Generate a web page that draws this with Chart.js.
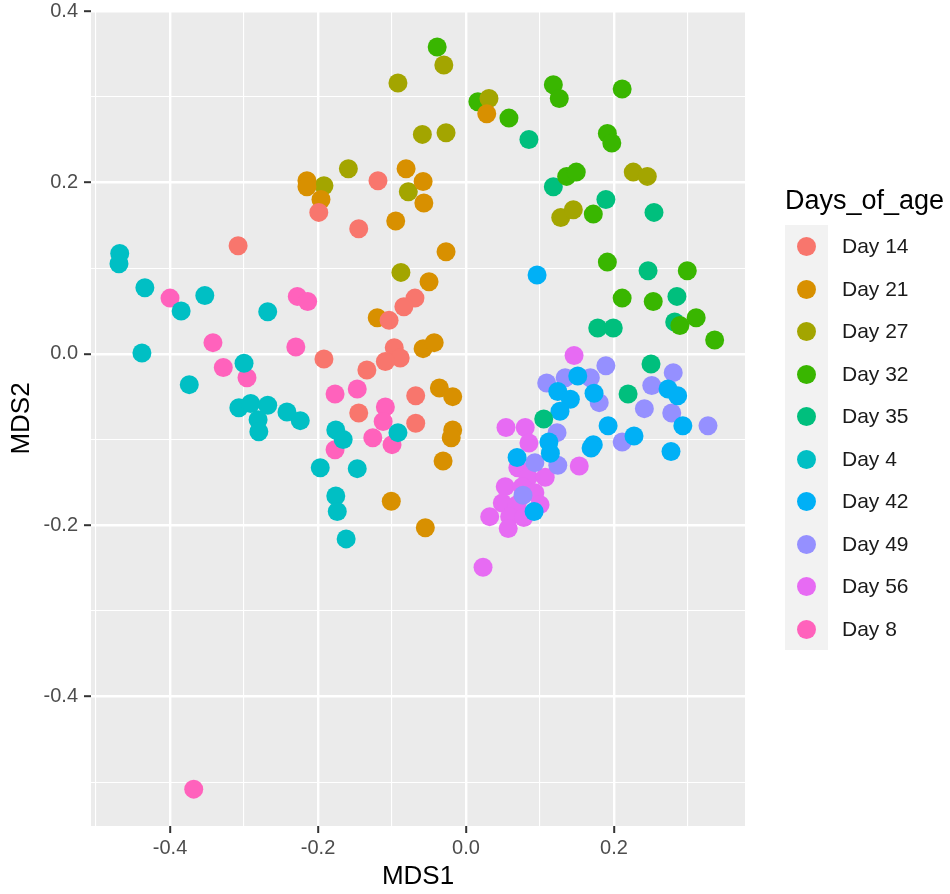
<!DOCTYPE html>
<html>
<head>
<meta charset="utf-8">
<script src="https://cdn.jsdelivr.net/npm/chart.js@4.4.1/dist/chart.umd.min.js"></script>
<style>
  body { margin: 0; background: #fff; font-family: "Liberation Sans", Arial, sans-serif; }
  #wrap { position: relative; width: 950px; height: 894px; }
  #legend { position: absolute; left: 785px; top: 180px; color: #1a1a1a; }
  #legend .title { font-size: 27px; height: 45px; line-height: 40px; color: #000; }
  #legend .row { position: relative; height: 42.5px; }
  #legend .key { position: absolute; left: 0; top: 0; width: 43px; height: 42.5px; background: #f2f2f2; }
  #legend .dot { position: absolute; left: 12px; top: 12px; width: 19px; height: 19px; border-radius: 50%; }
  #legend .lab { position: absolute; left: 57px; top: 0; line-height: 42.5px; font-size: 21px; white-space: nowrap; }
</style>
</head>
<body>
<div id="wrap">
  <canvas id="mds"></canvas>
  <div id="legend"></div>
</div>
<script>
// MDS coordinates, one [MDS1, MDS2] pair per sample
var day14 = [[-0.308,0.126],[-0.119,0.202],[-0.199,0.165],[-0.145,0.146],[-0.192,-0.006],[-0.134,-0.019],
  [-0.097,0.007],[-0.089,-0.005],[-0.109,-0.009],[-0.069,0.065],[-0.084,0.055],[-0.104,0.039],
  [-0.145,-0.069],[-0.068,-0.049],[-0.068,-0.081]];
var day21 = [[-0.215,0.202],[-0.215,0.195],[-0.196,0.180],[-0.081,0.216],[-0.058,0.201],[-0.057,0.176],
  [-0.095,0.155],[-0.027,0.119],[-0.050,0.084],[0.028,0.280],[-0.120,0.042],[-0.058,0.006],[-0.043,0.013],
  [-0.036,-0.040],[-0.018,-0.050],[-0.018,-0.089],[-0.020,-0.098],[-0.031,-0.125],[-0.101,-0.172],[-0.055,-0.203]];
var day27 = [[-0.159,0.216],[-0.192,0.196],[-0.078,0.189],[-0.092,0.316],[-0.030,0.337],[-0.059,0.256],
  [-0.027,0.258],[0.031,0.298],[-0.088,0.095],[0.128,0.159],[0.145,0.168],[0.226,0.212],[0.245,0.207]];
var day32 = [[-0.039,0.358],[0.016,0.294],[0.058,0.275],[0.118,0.314],[0.126,0.298],[0.211,0.309],
  [0.191,0.257],[0.197,0.246],[0.136,0.207],[0.149,0.212],[0.172,0.163],[0.191,0.107],[0.299,0.097],
  [0.211,0.065],[0.253,0.061],[0.289,0.033],[0.311,0.042],[0.336,0.016]];
var day35 = [[0.085,0.250],[0.118,0.195],[0.189,0.180],[0.254,0.165],[0.246,0.097],[0.285,0.067],
  [0.282,0.037],[0.178,0.030],[0.199,0.030],[0.250,-0.012],[0.219,-0.047],[0.105,-0.076]];
var day4 = [[-0.468,0.117],[-0.469,0.105],[-0.434,0.077],[-0.353,0.068],[-0.385,0.050],[-0.268,0.049],
  [-0.438,0.001],[-0.300,-0.011],[-0.374,-0.036],[-0.307,-0.063],[-0.291,-0.058],[-0.268,-0.060],
  [-0.281,-0.077],[-0.280,-0.091],[-0.242,-0.068],[-0.224,-0.078],[-0.176,-0.089],[-0.166,-0.100],
  [-0.197,-0.133],[-0.147,-0.134],[-0.176,-0.166],[-0.174,-0.184],[-0.162,-0.216],[-0.092,-0.092]];
var day42 = [[0.096,0.092],[0.151,-0.026],[0.124,-0.044],[0.173,-0.046],[0.141,-0.053],[0.127,-0.067],
  [0.273,-0.041],[0.286,-0.049],[0.293,-0.084],[0.192,-0.084],[0.227,-0.096],[0.172,-0.106],
  [0.169,-0.110],[0.277,-0.114],[0.112,-0.103],[0.114,-0.116],[0.069,-0.121],[0.092,-0.184]];
var day49 = [[0.189,-0.014],[0.280,-0.022],[0.109,-0.034],[0.134,-0.028],[0.168,-0.028],[0.180,-0.057],
  [0.251,-0.037],[0.241,-0.064],[0.278,-0.069],[0.327,-0.084],[0.211,-0.103],[0.123,-0.092],
  [0.124,-0.130],[0.093,-0.127],[0.077,-0.165]];
var day56 = [[0.146,-0.002],[0.054,-0.086],[0.080,-0.086],[0.085,-0.104],[0.153,-0.131],[0.070,-0.133],
  [0.084,-0.144],[0.107,-0.144],[0.053,-0.155],[0.076,-0.155],[0.093,-0.162],[0.100,-0.176],
  [0.049,-0.174],[0.069,-0.176],[0.032,-0.190],[0.059,-0.190],[0.078,-0.191],[0.057,-0.204],[0.023,-0.249]];
var day8 = [[-0.400,0.065],[-0.228,0.067],[-0.214,0.061],[-0.342,0.013],[-0.230,0.008],[-0.328,-0.016],
  [-0.296,-0.028],[-0.177,-0.047],[-0.147,-0.041],[-0.177,-0.112],[-0.126,-0.098],[-0.109,-0.062],
  [-0.112,-0.079],[-0.100,-0.106],[-0.368,-0.508]];

var groupNames = ['Day 14', 'Day 21', 'Day 27', 'Day 32', 'Day 35', 'Day 4', 'Day 42', 'Day 49', 'Day 56', 'Day 8'];
var groupPoints = [day14, day21, day27, day32, day35, day4, day42, day49, day56, day8];
var groupColors = ['#F8766D', '#D89000', '#A3A500', '#39B600', '#00BF7D', '#00BFC4', '#00B0F6', '#9590FF', '#E76BF3', '#FF62BC'];

var xMajor = [-0.4, -0.2, 0.0, 0.2];
var xMinor = [-0.5, -0.3, -0.1, 0.1, 0.3];
var yMajor = [-0.4, -0.2, 0.0, 0.2, 0.4];
var yMinor = [-0.5, -0.3, -0.1, 0.1, 0.3];
var xRange = [-0.5068, 0.377];
var yRange = [-0.551, 0.4];

var tickFont = { family: '"Liberation Sans", Arial, sans-serif', size: 20 };
var titleFont = { family: '"Liberation Sans", Arial, sans-serif', size: 26 };

function isMajor(list, v) {
  return list.some(function(m) { return Math.abs(m - v) < 1e-6; });
}

function setTicks(major, minor) {
  return function(scale) {
    scale.ticks = major.concat(minor).sort(function(a, b) { return a - b; }).map(function(v) { return { value: v }; });
  };
}

function gridFor(major) {
  return {
    color: '#ffffff',
    lineWidth: function(c) { return c.tick && isMajor(major, c.tick.value) ? 2.4 : 1.1; },
    tickColor: function(c) { return c.tick && isMajor(major, c.tick.value) ? '#333333' : 'rgba(0,0,0,0)'; },
    tickWidth: 2,
    tickLength: 7,
    drawTicks: true
  };
}

function labelFor(major) {
  return function(v) {
    if (!isMajor(major, v)) return '';
    return v.toFixed(1);
  };
}

// grey panel behind the grid, ggplot style
var panelBg = {
  id: 'panelBg',
  beforeDraw: function(chart) {
    var a = chart.chartArea, ctx = chart.ctx;
    ctx.save();
    ctx.fillStyle = '#EBEBEB';
    ctx.fillRect(a.left, a.top, a.right - a.left, a.bottom - a.top);
    ctx.restore();
  }
};

var datasets = groupNames.map(function(name, i) {
  return {
    label: name,
    data: groupPoints[i].map(function(p) { return { x: p[0], y: p[1] }; }),
    backgroundColor: groupColors[i],
    borderWidth: 0,
    pointRadius: 9.5,
    pointHoverRadius: 9.5,
    pointBorderWidth: 0
  };
});

new Chart(document.getElementById('mds'), {
  type: 'scatter',
  data: { datasets: datasets },
  plugins: [panelBg],
  options: {
    responsive: true,
    maintainAspectRatio: false,
    animation: false,
    layout: { padding: { left: 0, top: 11, right: 205, bottom: 0 } },
    plugins: { legend: { display: false }, tooltip: { enabled: false } },
    scales: {
      x: {
        type: 'linear',
        min: xRange[0],
        max: xRange[1],
        afterBuildTicks: setTicks(xMajor, xMinor),
        afterFit: function(s) { s.height = 68; s.paddingLeft = 0; s.paddingRight = 0; },
        grid: gridFor(xMajor),
        border: { display: false },
        ticks: { autoSkip: false, maxRotation: 0, color: '#4D4D4D', font: tickFont, padding: 3, callback: labelFor(xMajor) },
        title: { display: true, text: 'MDS1', color: '#000', font: titleFont, padding: { top: 0, bottom: 2 } }
      },
      y: {
        type: 'linear',
        min: yRange[0],
        max: yRange[1],
        afterBuildTicks: setTicks(yMajor, yMinor),
        afterFit: function(s) { s.width = 91; s.paddingTop = 0; s.paddingBottom = 0; },
        grid: gridFor(yMajor),
        border: { display: false },
        ticks: { autoSkip: false, color: '#4D4D4D', font: tickFont, padding: 6, callback: labelFor(yMajor) },
        title: { display: true, text: 'MDS2', color: '#000', font: titleFont, padding: { top: 6, bottom: 0 } }
      }
    }
  }
});

// legend built from the same group arrays
var legend = document.getElementById('legend');
var html = '<div class="title">Days_of_age</div>';
groupNames.forEach(function(name, i) {
  html += '<div class="row"><div class="key"><div class="dot" style="background:' + groupColors[i] + '"></div></div>' +
          '<div class="lab">' + name + '</div></div>';
});
legend.innerHTML = html;
</script>
</body>
</html>
